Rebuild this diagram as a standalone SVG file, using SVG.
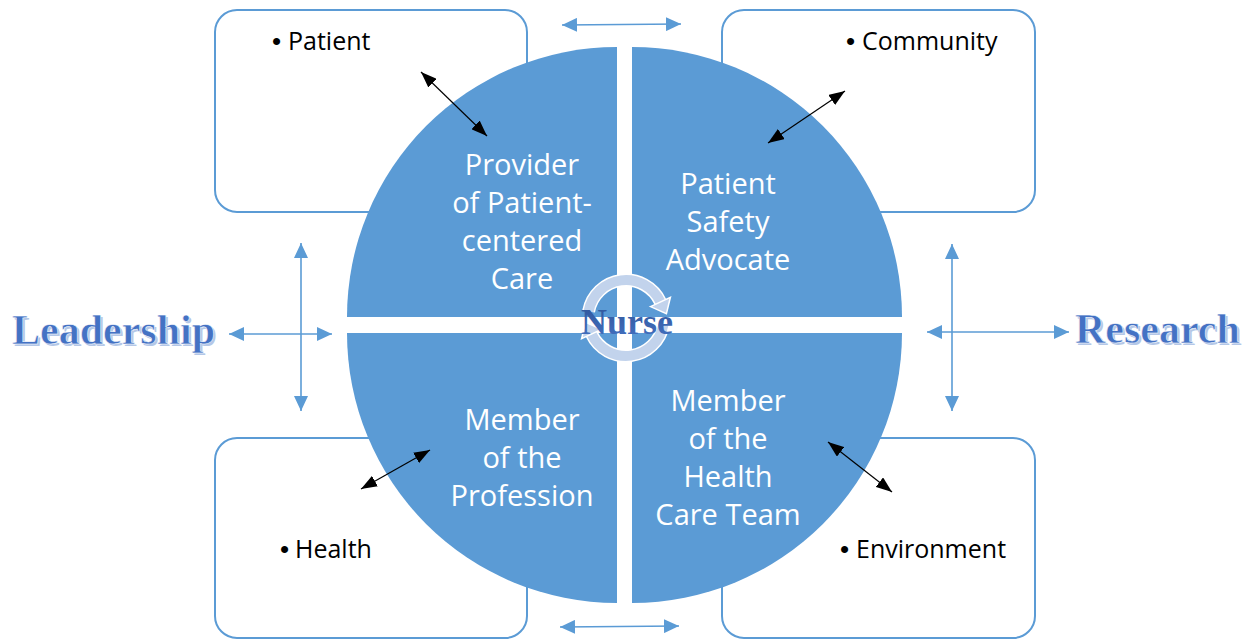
<svg xmlns="http://www.w3.org/2000/svg" width="1256" height="640" viewBox="0 0 1256 640">
<style>
.box{fill:#fff;stroke:#5B9BD5;stroke-width:2}
.quad{fill:#5B9BD5}
.qt{font-family:"Open Sans","Liberation Sans",sans-serif;font-size:29px;fill:#fff;text-anchor:middle}
.bt{font-family:"Open Sans","Liberation Sans",sans-serif;font-size:25px;fill:#000}
.bu{font-family:"Liberation Sans",sans-serif;font-size:26px;fill:#000}
.blk{stroke:#000;stroke-width:1.2;fill:none;marker-start:url(#hb);marker-end:url(#hb)}
.blu{stroke:#5B9BD5;stroke-width:1.6;fill:none;marker-start:url(#hu);marker-end:url(#hu)}
.wa{font-family:"Liberation Serif","DejaVu Serif",serif;font-weight:bold;font-size:42px}
.wash{fill:#B4C7E7}
.wam{fill:#4472C4;stroke:#fff;stroke-width:0.5}
</style>
<defs>
<marker id="hb" viewBox="0 0 16 12" refX="16" refY="6" markerWidth="16" markerHeight="12" markerUnits="userSpaceOnUse" orient="auto-start-reverse"><path d="M0,0 L16,6 L0,12 z" fill="#000"/></marker>
<marker id="hu" viewBox="0 0 15 14" refX="15" refY="7" markerWidth="15" markerHeight="14" markerUnits="userSpaceOnUse" orient="auto-start-reverse"><path d="M0,0 L15,7 L0,14 z" fill="#5B9BD5"/></marker>
<linearGradient id="ng" x1="0" y1="0" x2="0" y2="1"><stop offset="0" stop-color="#2F5597"/><stop offset="1" stop-color="#4472C4"/></linearGradient>
</defs>

<g id="box-patient"><rect class="box" x="215" y="10" width="312" height="202" rx="22"/><text class="bu" x="272" y="50">•</text><text class="bt" x="288" y="50">Patient</text></g>
<g id="box-community"><rect class="box" x="722" y="10" width="313" height="202" rx="22"/><text class="bu" x="846" y="50">•</text><text class="bt" x="862" y="50">Community</text></g>
<g id="box-health"><rect class="box" x="215" y="438" width="312" height="200" rx="22"/><text class="bu" x="280" y="558">•</text><text class="bt" x="295" y="558">Health</text></g>
<g id="box-environment"><rect class="box" x="722" y="438" width="313" height="200" rx="22"/><text class="bu" x="840" y="558">•</text><text class="bt" x="856" y="558">Environment</text></g>

<g id="q-provider"><path class="quad" d="M617,317 L347,317 A270,270 0 0 1 617,47 Z"/>
<text class="qt" x="522" y="175">Provider</text><text class="qt" x="522" y="213">of Patient-</text><text class="qt" x="522" y="251">centered</text><text class="qt" x="522" y="289">Care</text></g>
<g id="q-safety"><path class="quad" d="M632,317 L632,47 A270,270 0 0 1 902,317 Z"/>
<text class="qt" x="728" y="194">Patient</text><text class="qt" x="728" y="232">Safety</text><text class="qt" x="728" y="270">Advocate</text></g>
<g id="q-team"><path class="quad" d="M632,333 L902,333 A270,270 0 0 1 632,603 Z"/>
<text class="qt" x="728" y="411">Member</text><text class="qt" x="728" y="449">of the</text><text class="qt" x="728" y="487">Health</text><text class="qt" x="728" y="525">Care Team</text></g>
<g id="q-profession"><path class="quad" d="M617,333 L617,603 A270,270 0 0 1 347,333 Z"/>
<text class="qt" x="522" y="430">Member</text><text class="qt" x="522" y="468">of the</text><text class="qt" x="522" y="506">Profession</text></g>

<g id="nurse">
<path d="M588.6,311.4 A38,38 0 0 1 660.4,301.9" fill="none" stroke="#fff" stroke-width="13"/>
<path d="M588.6,311.4 A38,38 0 0 1 660.4,301.9" fill="none" stroke="#C2D3EC" stroke-width="10"/>
<polygon points="650.5,306.6 670.4,297.3 666.4,313.6" fill="#C2D3EC" stroke="#fff" stroke-width="1.5"/>
<path d="M663.4,324.6 A38,38 0 0 1 591.6,334.1" fill="none" stroke="#fff" stroke-width="13"/>
<path d="M663.4,324.6 A38,38 0 0 1 591.6,334.1" fill="none" stroke="#C2D3EC" stroke-width="10"/>
<polygon points="601.5,329.4 581.6,338.7 585.6,322.4" fill="#C2D3EC" stroke="#fff" stroke-width="1.5"/>
<text x="627" y="334" font-family="Liberation Serif,serif" font-weight="bold" font-size="36" fill="url(#ng)" text-anchor="middle">Nurse</text>
</g>

<g id="leadership"><text class="wa wash" x="14" y="346">Leadership</text><text class="wa wam" x="12" y="344">Leadership</text></g>
<g id="research"><text class="wa wash" x="1077" y="345">Research</text><text class="wa wam" x="1075" y="343">Research</text></g>

<g id="connectors">
<line class="blk" x1="421" y1="72" x2="487" y2="136"/>
<line class="blk" x1="768" y1="143" x2="845" y2="91"/>
<line class="blk" x1="361" y1="489" x2="430" y2="450"/>
<line class="blk" x1="828" y1="442" x2="892" y2="492"/>
<line class="blu" x1="562" y1="25" x2="681" y2="24"/>
<line class="blu" x1="560" y1="627" x2="679" y2="626"/>
<line class="blu" x1="229" y1="334" x2="332" y2="334"/>
<line class="blu" x1="301" y1="243" x2="301" y2="411"/>
<line class="blu" x1="927" y1="332" x2="1069" y2="332"/>
<line class="blu" x1="952" y1="244" x2="952" y2="411"/>
</g>
</svg>
